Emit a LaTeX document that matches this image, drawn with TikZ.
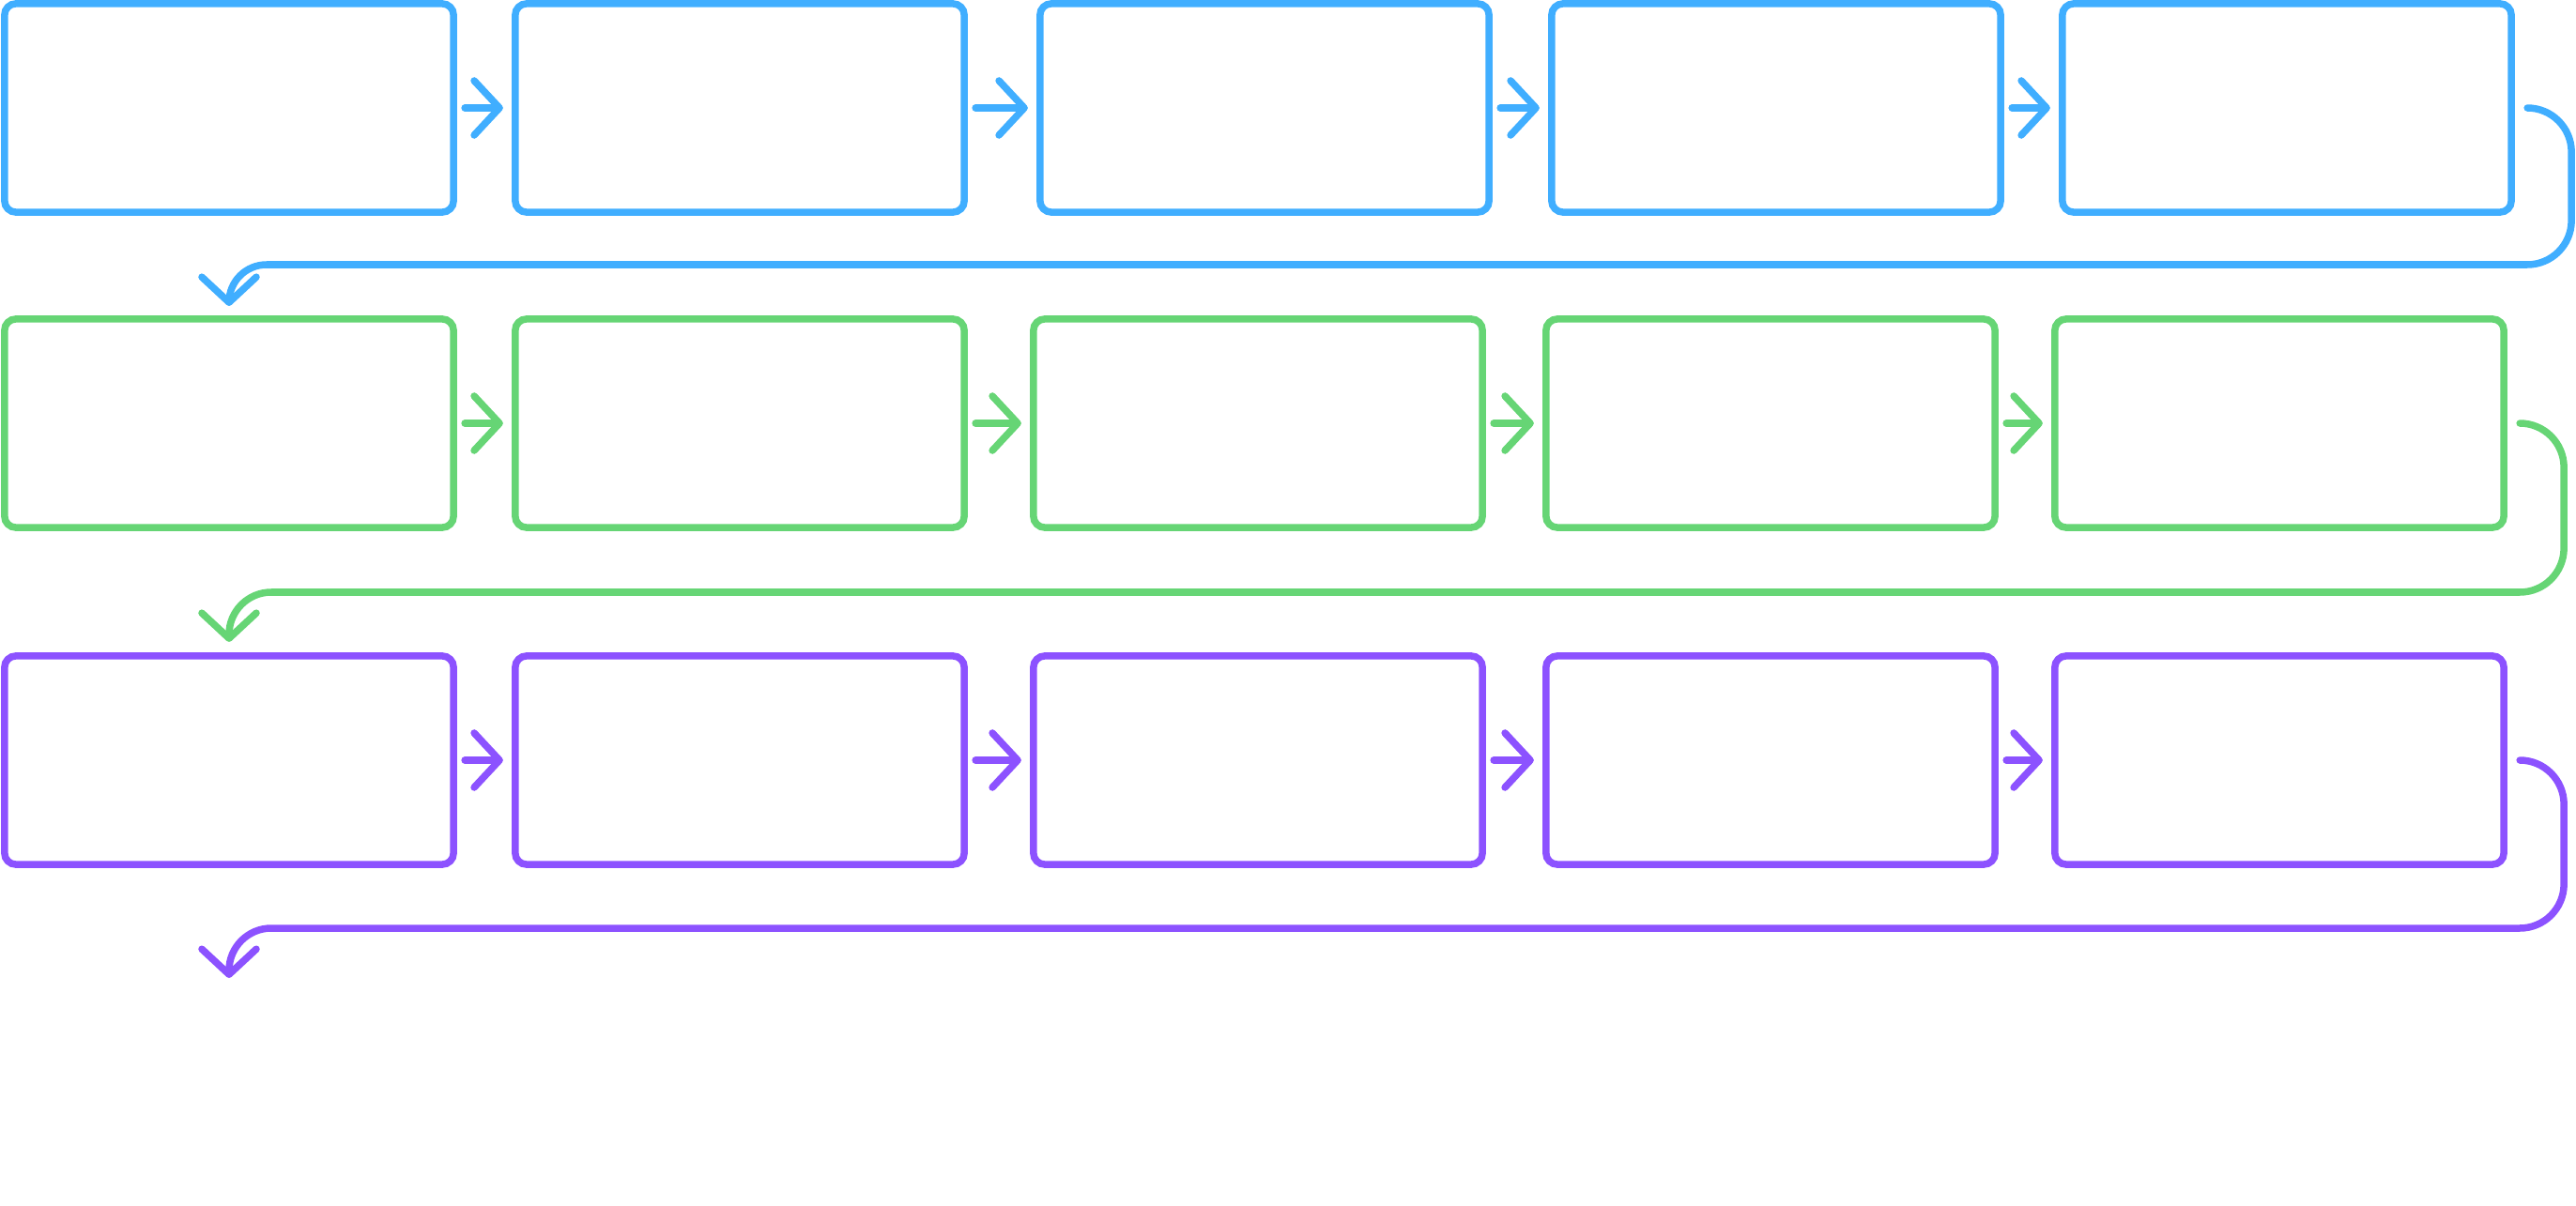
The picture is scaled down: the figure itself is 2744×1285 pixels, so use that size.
\documentclass[tikz,border=0pt]{standalone}
\usepackage{tikz}
\usetikzlibrary{calc,arrows.meta}
\definecolor{rowa}{HTML}{40AEFF}
\definecolor{rowb}{HTML}{66D575}
\definecolor{rowc}{HTML}{8C52FF}
\tikzset{
    box/.style={draw, rounded corners=0.12cm, line width=0.075cm, minimum width=4.78cm, minimum height=2.22cm, inner sep=0pt, outer sep=0pt},
    link/.style={line width=0.075cm, line cap=round, line join=round, -{Straight Barb[round,length=0.27cm,width=0.58cm]}},
    next/.style={link, shorten <=0.12cm, shorten >=0.13cm}
}
\begin{document}
\begin{tikzpicture}[x=0.01cm,y=0.01cm]
    \useasboundingbox (0,0) rectangle (2744,-1285);
    \node[box, rowa] at (244,-115) (B11) {};
    \node[box, rowa] at (788,-115) (B12) {};
    \node[box, rowa] at (1347,-115) (B13) {};
    \node[box, rowa] at (1892,-115) (B14) {};
    \node[box, rowa] at (2436,-115) (B15) {};
    \node[box, rowb] at (244,-451) (B21) {};
    \node[box, rowb] at (788,-451) (B22) {};
    \node[box, rowb] at (1340,-451) (B23) {};
    \node[box, rowb] at (1886,-451) (B24) {};
    \node[box, rowb] at (2428,-451) (B25) {};
    \node[box, rowc] at (244,-810) (B31) {};
    \node[box, rowc] at (788,-810) (B32) {};
    \node[box, rowc] at (1340,-810) (B33) {};
    \node[box, rowc] at (1886,-810) (B34) {};
    \node[box, rowc] at (2428,-810) (B35) {};
    \coordinate (B41) at (244,-1057);
    \draw[next, rowa] (B11.east) -- (B12.west);
    \draw[next, rowa] (B12.east) -- (B13.west);
    \draw[next, rowa] (B13.east) -- (B14.west);
    \draw[next, rowa] (B14.east) -- (B15.west);
    \draw[next, rowb] (B21.east) -- (B22.west);
    \draw[next, rowb] (B22.east) -- (B23.west);
    \draw[next, rowb] (B23.east) -- (B24.west);
    \draw[next, rowb] (B24.east) -- (B25.west);
    \draw[next, rowc] (B31.east) -- (B32.west);
    \draw[next, rowc] (B32.east) -- (B33.west);
    \draw[next, rowc] (B33.east) -- (B34.west);
    \draw[next, rowc] (B34.east) -- (B35.west);
    \draw[link, rowa] ([xshift=0.17cm]B15.east) arc[start angle=90,end angle=0,radius=47] -- ++(0,-73) arc[start angle=0,end angle=-90,radius=47] coordinate (ta) -- ($(ta -| B21.north)+(40,0)$) arc[start angle=90,end angle=180,radius=40] -- ($(B21.north)+(0,14)$);
    \draw[link, rowb] ([xshift=0.17cm]B25.east) arc[start angle=90,end angle=0,radius=47] -- ++(0,-86) arc[start angle=0,end angle=-90,radius=47] coordinate (tb) -- ($(tb -| B31.north)+(45,0)$) arc[start angle=90,end angle=180,radius=45] -- ($(B31.north)+(0,15)$);
    \draw[link, rowc] ([xshift=0.17cm]B35.east) arc[start angle=90,end angle=0,radius=47] -- ++(0,-85) arc[start angle=0,end angle=-90,radius=47] coordinate (tc) -- ($(tc -| B41)+(45,0)$) arc[start angle=90,end angle=180,radius=45] -- ($(B41)+(0,15)$);
\end{tikzpicture}
\end{document}
